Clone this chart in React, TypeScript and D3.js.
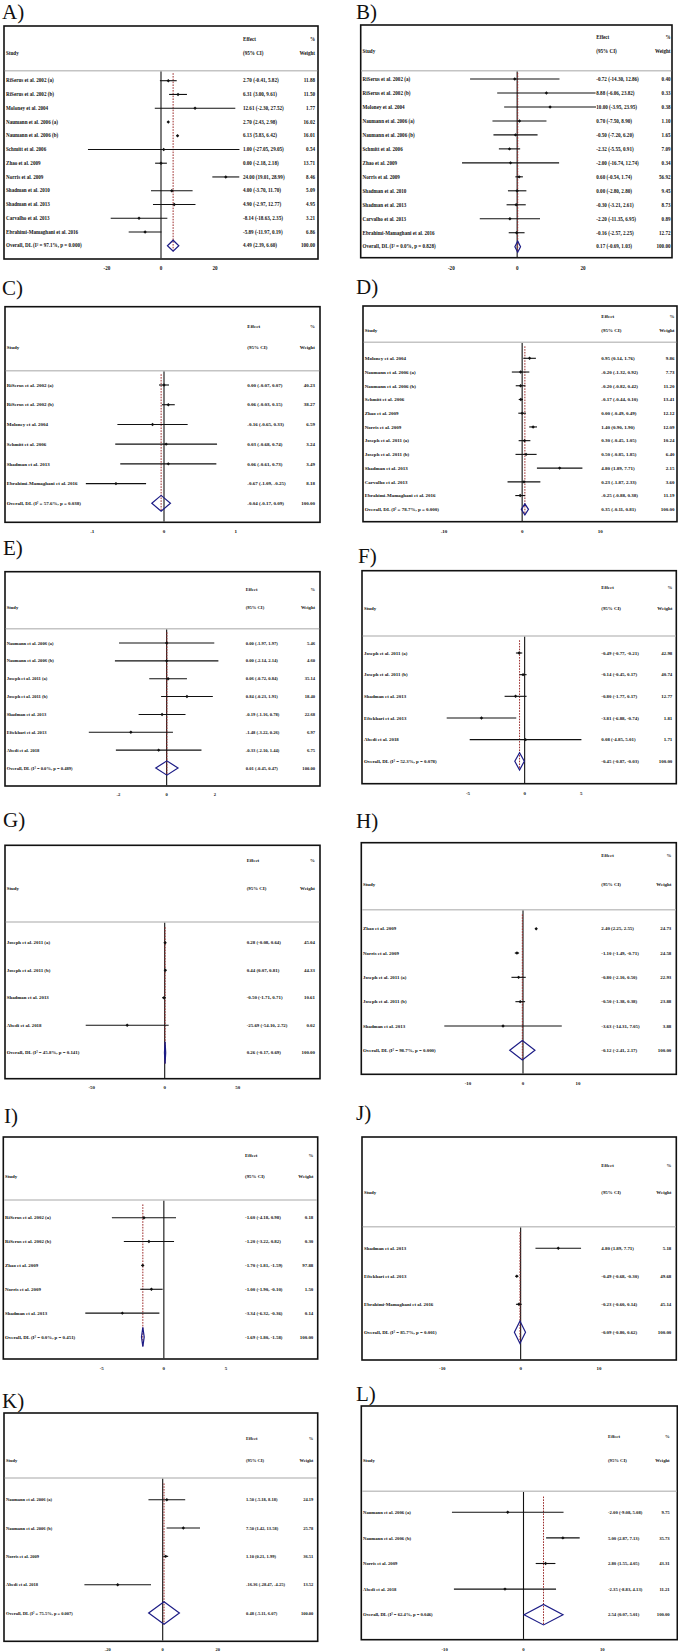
import React from "react";
import * as d3 from "d3";

const fmt = d3
  .formatLocale({ decimal: ".", thousands: ",", grouping: [3], currency: ["", ""], minus: "-" })
  .format(".2f");

// ---------- Panel A ----------
const A_study = ["RiSerus et al. 2002 (a)", "RiSerus et al. 2002 (b)", "Moloney et al. 2004", "Naumann et al. 2006 (a)", "Naumann et al. 2006 (b)", "Schmitt et al. 2006", "Zhao et al. 2009", "Norris et al. 2009", "Shadman et al. 2010", "Shadman et al. 2013", "Carvalho et al. 2013", "Ebrahimi-Mamaghani et al. 2016"];
const A_est = [2.7, 6.31, 12.61, 2.7, 6.13, 1.0, 0.0, 24.0, 4.0, 4.9, -8.14, -5.89];
const A_lo = [-0.41, 3.0, -2.3, 2.43, 5.83, -27.05, -2.18, 19.01, -3.7, -2.97, -18.63, -11.97];
const A_hi = [5.82, 9.61, 27.52, 2.98, 6.42, 29.05, 2.18, 28.99, 11.7, 12.77, 2.35, 0.19];
const A_wt = [11.88, 11.5, 1.77, 16.02, 16.01, 0.54, 13.71, 8.46, 5.09, 4.95, 3.21, 6.86];
const A_overall = [4.49, 2.39, 6.6];
const A_het = "I² = 97.1%, p = 0.000";
const A_ticks = [-20, 0, 20];

// ---------- Panel B ----------
const B_study = ["RiSerus et al. 2002 (a)", "RiSerus et al. 2002 (b)", "Moloney et al. 2004", "Naumann et al. 2006 (a)", "Naumann et al. 2006 (b)", "Schmitt et al. 2006", "Zhao et al. 2009", "Norris et al. 2009", "Shadman et al. 2010", "Shadman et al. 2013", "Carvalho et al. 2013", "Ebrahimi-Mamaghani et al. 2016"];
const B_est = [-0.72, 8.88, 10.0, 0.7, -0.5, -2.32, -2.0, 0.6, 0.0, -0.3, -2.2, -0.16];
const B_lo = [-14.3, -6.06, -3.95, -7.5, -7.2, -5.55, -16.74, -0.54, -2.8, -3.21, -11.35, -2.57];
const B_hi = [12.86, 23.82, 23.95, 8.9, 6.2, 0.91, 12.74, 1.74, 2.8, 2.61, 6.95, 2.25];
const B_wt = [0.4, 0.33, 0.38, 1.1, 1.65, 7.09, 0.34, 56.92, 9.45, 8.73, 0.89, 12.72];
const B_overall = [0.17, -0.69, 1.03];
const B_het = "I² = 0.0%, p = 0.828";
const B_ticks = [-20, 0, 20];

// ---------- Panel C ----------
const C_study = ["RiSerus et al. 2002 (a)", "RiSerus et al. 2002 (b)", "Moloney et al. 2004", "Schmitt et al. 2006", "Shadman et al. 2013", "Ebrahimi-Mamaghani et al. 2016"];
const C_est = [0.0, 0.06, -0.16, 0.03, 0.06, -0.67];
const C_lo = [-0.07, -0.03, -0.65, -0.68, -0.61, -1.09];
const C_hi = [0.07, 0.15, 0.33, 0.74, 0.73, -0.25];
const C_wt = [40.23, 38.27, 6.59, 3.24, 3.49, 8.18];
const C_overall = [-0.04, -0.17, 0.09];
const C_het = "I² = 57.6%, p = 0.038";
const C_ticks = [-1, 0, 1];

// ---------- Panel D ----------
const D_study = ["Moloney et al. 2004", "Naumann et al. 2006 (a)", "Naumann et al. 2006 (b)", "Schmitt et al. 2006", "Zhao et al. 2009", "Norris et al. 2009", "Joseph et al. 2011 (a)", "Joseph et al. 2011 (b)", "Shadman et al. 2013", "Carvalho et al. 2013", "Ebrahimi-Mamaghani et al. 2016"];
const D_est = [0.95, -0.2, -0.2, -0.17, 0.0, 1.4, 0.3, 0.5, 4.8, 0.23, -0.25];
const D_lo = [0.14, -1.32, -0.82, -0.44, -0.49, 0.9, -0.45, -0.85, 1.89, -1.87, -0.88];
const D_hi = [1.76, 0.92, 0.42, 0.1, 0.49, 1.9, 1.05, 1.85, 7.71, 2.33, 0.38];
const D_wt = [9.86, 7.73, 11.2, 13.41, 12.12, 12.09, 10.24, 6.4, 2.15, 3.6, 11.19];
const D_overall = [0.35, -0.11, 0.81];
const D_het = "I² = 78.7%, p = 0.000";
const D_ticks = [-10, 0, 10];

// ---------- Panel E ----------
const E_study = ["Naumann et al. 2006 (a)", "Naumann et al. 2006 (b)", "Joseph et al. 2011 (a)", "Joseph et al. 2011 (b)", "Shadman et al. 2013", "Eftekhari et al. 2013", "Abedi et al. 2018"];
const E_est = [0.0, 0.0, 0.06, 0.84, -0.19, -1.48, -0.33];
const E_lo = [-1.97, -2.14, -0.72, -0.23, -1.16, -3.22, -2.1];
const E_hi = [1.97, 2.14, 0.84, 1.91, 0.78, 0.26, 1.44];
const E_wt = [5.46, 4.6, 35.14, 18.4, 22.68, 6.97, 6.75];
const E_overall = [0.01, -0.45, 0.47];
const E_het = "I² = 0.0%, p = 0.489";
const E_ticks = [-2, 0, 2];

// ---------- Panel F ----------
const F_study = ["Joseph et al. 2011 (a)", "Joseph et al. 2011 (b)", "Shadman et al. 2013", "Eftekhari et al. 2013", "Abedi et al. 2018"];
const F_est = [-0.49, -0.14, -0.8, -3.81, 0.08];
const F_lo = [-0.77, -0.45, -1.77, -6.88, -4.85];
const F_hi = [-0.21, 0.17, 0.17, -0.74, 5.01];
const F_wt = [42.98, 40.74, 12.77, 1.81, 1.71];
const F_overall = [-0.45, -0.87, -0.03];
const F_het = "I² = 52.3%, p = 0.078";
const F_ticks = [-5, 0, 5];

// ---------- Panel G ----------
const G_study = ["Joseph et al. 2011 (a)", "Joseph et al. 2011 (b)", "Shadman et al. 2013", "Abedi et al. 2018"];
const G_est = [0.28, 0.44, -0.5, -25.69];
const G_lo = [-0.08, 0.07, -1.71, -54.1];
const G_hi = [0.64, 0.81, 0.71, 2.72];
const G_wt = [45.04, 44.33, 10.61, 0.02];
const G_overall = [0.26, -0.17, 0.69];
const G_het = "I² = 45.8%, p = 0.141";
const G_ticks = [-50, 0, 50];

// ---------- Panel H ----------
const H_study = ["Zhao et al. 2009", "Norris et al. 2009", "Joseph et al. 2011 (a)", "Joseph et al. 2011 (b)", "Shadman et al. 2013"];
const H_est = [2.4, -1.1, -0.8, -0.5, -3.63];
const H_lo = [2.25, -1.49, -2.1, -1.38, -14.31];
const H_hi = [2.55, -0.71, 0.5, 0.38, 7.05];
const H_wt = [24.73, 24.58, 22.93, 23.88, 3.88];
const H_overall = [-0.12, -2.41, 2.17];
const H_het = "I² = 98.7%, p = 0.000";
const H_ticks = [-10, 0, 10];

// ---------- Panel I ----------
const I_study = ["RiSerus et al. 2002 (a)", "RiSerus et al. 2002 (b)", "Zhao et al. 2009", "Norris et al. 2009", "Shadman et al. 2013"];
const I_est = [-1.6, -1.2, -1.7, -1.0, -3.34];
const I_lo = [-4.18, -3.22, -1.81, -1.9, -6.32];
const I_hi = [0.98, 0.82, -1.59, -0.1, -0.36];
const I_wt = [0.18, 0.3, 97.88, 1.5, 0.14];
const I_overall = [-1.69, -1.8, -1.58];
const I_het = "I² = 0.0%, p = 0.451";
const I_ticks = [-5, 0, 5];

// ---------- Panel J ----------
const J_study = ["Shadman et al. 2013", "Eftekhari et al. 2013", "Ebrahimi-Mamaghani et al. 2016"];
const J_est = [4.8, -0.49, -0.23];
const J_lo = [1.89, -0.68, -0.6];
const J_hi = [7.71, -0.3, 0.14];
const J_wt = [5.18, 49.68, 45.14];
const J_overall = [-0.09, -0.8, 0.62];
const J_het = "I² = 85.7%, p = 0.001";
const J_ticks = [-10, 0, 10];

// ---------- Panel K ----------
const K_study = ["Naumann et al. 2006 (a)", "Naumann et al. 2006 (b)", "Norris et al. 2009", "Abedi et al. 2018"];
const K_est = [1.5, 7.5, 1.1, -16.36];
const K_lo = [-5.18, 1.42, 0.21, -28.47];
const K_hi = [8.18, 13.58, 1.99, -4.25];
const K_wt = [24.19, 25.78, 36.51, 13.52];
const K_overall = [0.48, -5.11, 6.07];
const K_het = "I² = 75.5%, p = 0.007";
const K_ticks = [-20, 0, 20];

// ---------- Panel L ----------
const L_study = ["Naumann et al. 2006 (a)", "Naumann et al. 2006 (b)", "Norris et al. 2009", "Abedi et al. 2018"];
const L_est = [-2.0, 5.0, 2.8, -2.35];
const L_lo = [-9.08, 2.87, 1.55, -8.83];
const L_hi = [5.08, 7.13, 4.05, 4.13];
const L_wt = [9.75, 35.73, 43.31, 11.21];
const L_overall = [2.54, 0.07, 5.01];
const L_het = "I² = 62.4%, p = 0.046";
const L_ticks = [-10, 0, 10];

const PANELS = [
  { name: "A", study: A_study, est: A_est, lo: A_lo, hi: A_hi, wt: A_wt, overall: A_overall, het: A_het, ticks: A_ticks },
  { name: "B", study: B_study, est: B_est, lo: B_lo, hi: B_hi, wt: B_wt, overall: B_overall, het: B_het, ticks: B_ticks },
  { name: "C", study: C_study, est: C_est, lo: C_lo, hi: C_hi, wt: C_wt, overall: C_overall, het: C_het, ticks: C_ticks },
  { name: "D", study: D_study, est: D_est, lo: D_lo, hi: D_hi, wt: D_wt, overall: D_overall, het: D_het, ticks: D_ticks },
  { name: "E", study: E_study, est: E_est, lo: E_lo, hi: E_hi, wt: E_wt, overall: E_overall, het: E_het, ticks: E_ticks },
  { name: "F", study: F_study, est: F_est, lo: F_lo, hi: F_hi, wt: F_wt, overall: F_overall, het: F_het, ticks: F_ticks },
  { name: "G", study: G_study, est: G_est, lo: G_lo, hi: G_hi, wt: G_wt, overall: G_overall, het: G_het, ticks: G_ticks },
  { name: "H", study: H_study, est: H_est, lo: H_lo, hi: H_hi, wt: H_wt, overall: H_overall, het: H_het, ticks: H_ticks },
  { name: "I", study: I_study, est: I_est, lo: I_lo, hi: I_hi, wt: I_wt, overall: I_overall, het: I_het, ticks: I_ticks },
  { name: "J", study: J_study, est: J_est, lo: J_lo, hi: J_hi, wt: J_wt, overall: J_overall, het: J_het, ticks: J_ticks },
  { name: "K", study: K_study, est: K_est, lo: K_lo, hi: K_hi, wt: K_wt, overall: K_overall, het: K_het, ticks: K_ticks },
  { name: "L", study: L_study, est: L_est, lo: L_lo, hi: L_hi, wt: L_wt, overall: L_overall, het: L_het, ticks: L_ticks },
];

// ---------- Layout (pixel geometry for each panel) ----------
const LAYOUT: Record<string, any> = {
  A: { label: [2, 18.5], box: [4, 26, 318, 259], sep: 70.7, hTop: 39, hBot: 53, row1: 80.7, rowN: 245.7, axis: [107, 215], textX: 6, effX: 243, wX: 315, tickY: 268, fs: 5.1 },
  B: { label: [356, 18.5], box: [360.7, 25, 672, 257.7], sep: 70.7, hTop: 37.7, hBot: 51.7, row1: 79, rowN: 246.7, axis: [451.3, 583], textX: 362.5, effX: 596.3, wX: 670.5, tickY: 268, fs: 5.1 },
  C: { label: [2, 294.5], box: [5, 306.7, 320, 522.3], sep: 370.7, hTop: 326, hBot: 347.3, row1: 385, rowN: 503.3, axis: [92.3, 235.7], textX: 6.7, effX: 247.3, wX: 315, tickY: 531.7, fs: 5 },
  D: { label: [356, 294], box: [363, 306, 677, 521.7], sep: 342.3, hTop: 316.7, hBot: 330.7, row1: 358.3, rowN: 509.3, axis: [444, 600.3], textX: 364.7, effX: 601.3, wX: 674.5, tickY: 531.7, fs: 5 },
  E: { label: [3, 554.5], box: [5, 571.7, 320, 786], sep: 628.7, hTop: 589.3, hBot: 607, row1: 643, rowN: 768, axis: [118.3, 215], textX: 6.7, effX: 245.7, wX: 315, tickY: 794.3, fs: 4.6 },
  F: { label: [358, 563], box: [362, 570.7, 676.3, 783.7], sep: 636, hTop: 587.3, hBot: 608.7, row1: 653, rowN: 761.3, axis: [468, 581.3], textX: 364, effX: 601.3, wX: 672.3, tickY: 793.7, fs: 4.9 },
  G: { label: [3, 827], box: [5, 845.3, 320, 1078.7], sep: 922, hTop: 860.3, hBot: 888, row1: 942.7, rowN: 1052.7, axis: [91.7, 237.7], textX: 6.7, effX: 246.7, wX: 315, tickY: 1087, fs: 4.9 },
  H: { label: [356, 828], box: [361.3, 842.7, 676.3, 1074.3], sep: 909.7, hTop: 855.3, hBot: 884.7, row1: 928.7, rowN: 1050.3, axis: [468, 578], textX: 363, effX: 601.3, wX: 671.3, tickY: 1083.7, fs: 4.9 },
  I: { label: [4, 1123], box: [3.3, 1137, 317.7, 1359], sep: 1200, hTop: 1155.3, hBot: 1176.7, row1: 1217.7, rowN: 1337, axis: [101.7, 226], textX: 5, effX: 245, wX: 313.3, tickY: 1368.3, fs: 4.9 },
  J: { label: [356, 1120], box: [362, 1137, 676.3, 1360], sep: 1226.7, hTop: 1165, hBot: 1192.3, row1: 1248.3, rowN: 1332.3, axis: [442.3, 599], textX: 364, effX: 601.3, wX: 671.3, tickY: 1368.3, fs: 4.9 },
  K: { label: [2, 1407.5], box: [4, 1413, 317.7, 1641.3], sep: 1478, hTop: 1438, hBot: 1460.7, row1: 1499.7, rowN: 1613, axis: [107.7, 217.7], textX: 6, effX: 246, wX: 313.3, tickY: 1649.7, fs: 4.5 },
  L: { label: [356, 1401], box: [361.3, 1406, 677.3, 1639.7], sep: 1491.3, hTop: 1436.3, hBot: 1460.7, row1: 1512.3, rowN: 1614.7, axis: [444.7, 602.3], textX: 363, effX: 608, wX: 669.7, tickY: 1649.7, fs: 4.7 },
};

const FONT = "'Liberation Serif', 'Times New Roman', serif";
const DIAMOND_COLOR = "#1c1c86";
const RED = "#9b2a2a";

function Forest({ p, L }: { p: any; L: any }) {
  const [bx1, by1, bx2, by2] = L.box;
  const x = d3.scaleLinear().domain([p.ticks[0], p.ticks[p.ticks.length - 1]]).range(L.axis);
  const n = p.study.length;
  const y = d3.scaleLinear().domain([0, n]).range([L.row1, L.rowN]);
  const step = (L.rowN - L.row1) / n;
  const hh = step * 0.4;
  const fs = L.fs;
  const tb = fs * 0.35;
  const [oe, olo, ohi] = p.overall;
  const yo = y(n);
  const diamond = d3.line().curve(d3.curveLinearClosed)([
    [x(olo), yo],
    [x(oe), yo - hh],
    [x(ohi), yo],
    [x(oe), yo + hh],
  ] as [number, number][]);
  const textStyle = { fontFamily: FONT, fontWeight: 700, fontSize: fs, fill: "#111" } as any;
  const marker = (cx: number, cy: number) => {
    const s = 1.7;
    return `M${cx - s},${cy}L${cx},${cy - s}L${cx + s},${cy}L${cx},${cy + s}Z`;
  };
  return (
    <g>
      <text x={L.label[0]} y={L.label[1]} style={{ fontFamily: FONT, fontSize: 21, fill: "#111" }}>
        {p.name + ")"}
      </text>
      <rect x={bx1} y={by1} width={bx2 - bx1} height={by2 - by1} fill="#fff" stroke="#111" strokeWidth={1.6} />
      <line x1={bx1 + 0.8} x2={bx2 - 0.8} y1={L.sep} y2={L.sep} stroke="#c4c4c4" strokeWidth={1.4} />
      {/* headers */}
      <text x={L.effX} y={L.hTop + tb} style={textStyle}>Effect</text>
      <text x={L.wX} y={L.hTop + tb} style={textStyle} textAnchor="end">%</text>
      <text x={L.textX} y={L.hBot + tb} style={textStyle}>Study</text>
      <text x={L.effX} y={L.hBot + tb} style={textStyle}>(95% CI)</text>
      <text x={L.wX} y={L.hBot + tb} style={textStyle} textAnchor="end">Weight</text>
      {/* null line */}
      <line x1={x(0)} x2={x(0)} y1={L.sep + 0.7} y2={by2 - 0.8} stroke="#111" strokeWidth={1.1} />
      {/* overall dashed line */}
      <line
        x1={x(oe)}
        x2={x(oe)}
        y1={L.sep + (L.row1 - L.sep) * 0.25}
        y2={yo + hh}
        stroke={RED}
        strokeWidth={1}
        strokeDasharray="1.6,1.2"
      />
      {/* studies */}
      {p.study.map((s: string, i: number) => (
        <g key={s + i}>
          <line x1={x(p.lo[i])} x2={x(p.hi[i])} y1={y(i)} y2={y(i)} stroke="#111" strokeWidth={1.1} />
          <path d={marker(x(p.est[i]), y(i))} fill="#111" />
          <text x={L.textX} y={y(i) + tb} style={textStyle}>{s}</text>
          <text x={L.effX} y={y(i) + tb} style={textStyle}>
            {`${fmt(p.est[i])} (${fmt(p.lo[i])}, ${fmt(p.hi[i])})`}
          </text>
          <text x={L.wX} y={y(i) + tb} style={textStyle} textAnchor="end">{fmt(p.wt[i])}</text>
        </g>
      ))}
      {/* overall */}
      <path d={diamond || ""} fill="none" stroke={DIAMOND_COLOR} strokeWidth={1.2} />
      <text x={L.textX} y={yo + tb} style={textStyle}>{`Overall, DL (${p.het})`}</text>
      <text x={L.effX} y={yo + tb} style={textStyle}>{`${fmt(oe)} (${fmt(olo)}, ${fmt(ohi)})`}</text>
      <text x={L.wX} y={yo + tb} style={textStyle} textAnchor="end">{fmt(100)}</text>
      {/* tick labels */}
      {p.ticks.map((t: number) => (
        <text key={t} x={x(t)} y={L.tickY + tb} style={textStyle} textAnchor="middle">
          {String(t)}
        </text>
      ))}
    </g>
  );
}

export default function App() {
  return (
    <svg
      width={678}
      height={1652}
      viewBox="0 0 678 1652"
      style={{ position: "absolute", left: 0, top: 0, display: "block", background: "#fff" }}
    >
      <rect x={0} y={0} width={678} height={1652} fill="#fff" />
      {PANELS.map((p) => (
        <Forest key={p.name} p={p} L={LAYOUT[p.name]} />
      ))}
    </svg>
  );
}
